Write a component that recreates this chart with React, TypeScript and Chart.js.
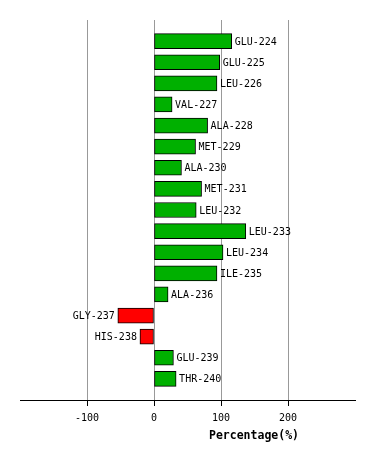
import React, { useEffect, useRef } from "react";
import { Chart, registerables } from "chart.js";

Chart.register(...registerables);

const residues = [
  "GLU-224", "GLU-225", "LEU-226", "VAL-227", "ALA-228", "MET-229", "ALA-230",
  "MET-231", "LEU-232", "LEU-233", "LEU-234", "ILE-235", "ALA-236", "GLY-237",
  "HIS-238", "GLU-239", "THR-240",
];
const percentages = [116, 98, 94, 27, 80, 62, 41, 71, 63, 137, 103, 94, 21, -54, -21, 29, 33];
const xTickValues = [-100, 0, 100, 200];
const xMin = -200;
const xMax = 300;
const axisTitle = "Percentage(%)";

const MONO = "'DejaVu Sans Mono', monospace";

const barLabelPlugin = {
  id: "barLabels",
  afterDatasetsDraw(chart: any) {
    const ctx = chart.ctx;
    const meta = chart.getDatasetMeta(0);
    ctx.save();
    ctx.font = `10px ${MONO}`;
    ctx.fillStyle = "#000";
    ctx.textBaseline = "middle";
    meta.data.forEach((el: any, i: number) => {
      const v = chart.data.datasets[0].data[i];
      if (v === null || v === undefined) return;
      const label = chart.data.labels[i];
      if (v >= 0) {
        ctx.textAlign = "left";
        ctx.fillText(label, el.x + 3, el.y + 1);
      } else {
        ctx.textAlign = "right";
        ctx.fillText(label, el.x - 3, el.y + 1);
      }
    });
    ctx.restore();
  },
  afterDraw(chart: any) {
    const ctx = chart.ctx;
    const area = chart.chartArea;
    ctx.save();
    ctx.font = `bold 11.5px ${MONO}`;
    ctx.fillStyle = "#000";
    ctx.textAlign = "center";
    ctx.textBaseline = "middle";
    ctx.fillText(axisTitle, area.left + 234, area.bottom + 36);
    ctx.restore();
  },
};

export default function App() {
  const ref = useRef<HTMLCanvasElement | null>(null);
  useEffect(() => {
    document.body.style.margin = "0";
    const labels = ["", ...residues, ""];
    const data = [null, ...percentages, null];
    const colors = data.map((v) => (v !== null && v < 0 ? "#FF0000" : "#00B000"));
    const chart = new Chart(ref.current as HTMLCanvasElement, {
      type: "bar",
      data: {
        labels,
        datasets: [
          {
            data,
            backgroundColor: colors,
            borderColor: "#000",
            borderWidth: 1,
            borderSkipped: false,
            barThickness: 15,
          },
        ],
      },
      options: {
        indexAxis: "y",
        animation: false,
        responsive: true,
        maintainAspectRatio: false,
        layout: { padding: { left: 20, right: 19, top: 20, bottom: 0 } },
        plugins: { legend: { display: false }, tooltip: { enabled: false } },
        scales: {
          x: {
            type: "linear",
            min: xMin,
            max: xMax,
            afterBuildTicks: (scale: any) => {
              scale.ticks = xTickValues.map((value) => ({ value }));
            },
            afterFit: (scale: any) => {
              scale.height = 60;
            },
            grid: {
              color: "#999",
              tickColor: "#000",
              tickLength: 6,
              lineWidth: 1,
            },
            border: { display: true, color: "#000", width: 1 },
            ticks: {
              color: "#000",
              font: { family: MONO, size: 10 },
              padding: 6,
              maxRotation: 0,
              autoSkip: false,
            },
          },
          y: {
            type: "category",
            offset: false,
            display: false,
          },
        },
      },
      plugins: [barLabelPlugin],
    } as any);
    return () => chart.destroy();
  }, []);
  return (
    <div style={{ width: 374, height: 460, position: "relative" }}>
      <canvas ref={ref} />
    </div>
  );
}
